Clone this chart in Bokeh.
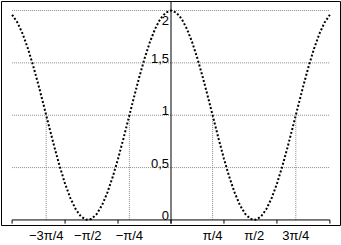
from bokeh.plotting import figure
from bokeh.models import FixedTicker, Range1d, ColumnDataSource
from bokeh.core.properties import value
from bokeh.embed import file_html
from bokeh.resources import INLINE
import math

# Curve samples (y = 2cos^2 x)
curve_x = [-3.0, -2.9, -2.8, -2.7, -2.6, -2.5, -2.4, -2.3, -2.2, -2.1, -2.0,
           -1.9, -1.8, -1.7, -1.6, -1.5, -1.4, -1.3, -1.2, -1.1, -1.0,
           -0.9, -0.8, -0.7, -0.6, -0.5, -0.4, -0.3, -0.2, -0.1, 0.0,
           0.1, 0.2, 0.3, 0.4, 0.5, 0.6, 0.7, 0.8, 0.9, 1.0,
           1.1, 1.2, 1.3, 1.4, 1.5, 1.6, 1.7, 1.8, 1.9, 2.0,
           2.1, 2.2, 2.3, 2.4, 2.5, 2.6, 2.7, 2.8, 2.9, 3.0]
curve_y = [1.960, 1.886, 1.776, 1.635, 1.469, 1.284, 1.088, 0.888, 0.693, 0.510, 0.346,
           0.209, 0.103, 0.033, 0.002, 0.010, 0.058, 0.143, 0.263, 0.411, 0.584,
           0.773, 0.971, 1.170, 1.362, 1.540, 1.697, 1.825, 1.921, 1.980, 2.000,
           1.980, 1.921, 1.825, 1.697, 1.540, 1.362, 1.170, 0.971, 0.773, 0.584,
           0.411, 0.263, 0.143, 0.058, 0.010, 0.002, 0.033, 0.103, 0.209, 0.346,
           0.510, 0.693, 0.888, 1.088, 1.284, 1.469, 1.635, 1.776, 1.886, 1.960]

y_grid = [0.5, 1.0, 1.5, 2.0]
y_labels = ["0", "0,5", "1", "1,5", "2"]
y_label_vals = [0.0, 0.5, 1.0, 1.5, 2.0]
x_ticks = [-3, -2, -1, 0, 1, 2, 3]
pi_ticks = [-3 * math.pi / 4, -math.pi / 2, -math.pi / 4, math.pi / 4, math.pi / 2, 3 * math.pi / 4]
pi_labels = ["\u22123\u03c0/4", "\u2212\u03c0/2", "\u2212\u03c0/4", "\u03c0/4", "\u03c0/2", "3\u03c0/4"]
drop_x = [-3 * math.pi / 4, -math.pi / 4, math.pi / 4, 3 * math.pi / 4]
drop_y = [1.0, 1.0, 1.0, 1.0]

FONT = "Liberation Sans"

p = figure(width=341, height=245, output_backend="svg", toolbar_location=None,
           x_range=Range1d(-3.2, 3.2), y_range=Range1d(-0.053, 2.086),
           y_axis_location=None, min_border_left=1, min_border_right=1,
           min_border_top=1, min_border_bottom=20)
p.outline_line_color = "black"
p.outline_line_width = 1
p.xgrid.visible = False
p.ygrid.visible = False
p.background_fill_color = "white"
p.border_fill_color = "white"

# x axis below the frame: pi labels only
ax = p.xaxis[0]
ax.ticker = FixedTicker(ticks=pi_ticks)
ax.major_label_overrides = {t: l for t, l in zip(pi_ticks, pi_labels)}
ax.axis_line_color = None
ax.major_tick_line_color = None
ax.minor_tick_line_color = None
ax.major_tick_out = 0
ax.major_tick_in = 0
ax.major_label_standoff = 2
ax.major_label_text_font = FONT
ax.major_label_text_font_size = "13px"
ax.major_label_text_color = "black"

# horizontal dotted grid
n = len(y_grid)
p.segment(x0=[x_ticks[0]] * n, x1=[x_ticks[-1]] * n, y0=y_grid, y1=y_grid,
          line_color="#8c8c8c", line_width=1, line_dash="1 1")
# vertical dotted drops
p.segment(x0=drop_x, x1=drop_x, y0=[0] * len(drop_x), y1=drop_y,
          line_color="#8c8c8c", line_width=1, line_dash="1 1")

# axis line at y=0 and integer ticks
p.segment(x0=[x_ticks[0]], x1=[x_ticks[-1]], y0=[0], y1=[0], line_color="black", line_width=1)
p.segment(x0=x_ticks, x1=x_ticks, y0=[0] * len(x_ticks), y1=[-0.035] * len(x_ticks),
          line_color="black", line_width=1)
# y axis line
p.segment(x0=[0], x1=[0], y0=[-0.035], y1=[2.2], line_color="black", line_width=1)

# curve
p.line(curve_x, curve_y, line_color="black", line_width=2, line_dash="2 2")

# y labels
p.text(x=[0] * 4, y=y_label_vals[:4], text=y_labels[:4], text_align="right",
       text_baseline="bottom", x_offset=-2, y_offset=0,
       text_font=value(FONT), text_font_size="13px", text_color="black")
p.text(x=[0], y=[y_label_vals[4]], text=[y_labels[4]], text_align="right",
       text_baseline="top", x_offset=-2, y_offset=5,
       text_font=value(FONT), text_font_size="13px", text_color="black")

open("out.html", "w").write(file_html(p, INLINE))
